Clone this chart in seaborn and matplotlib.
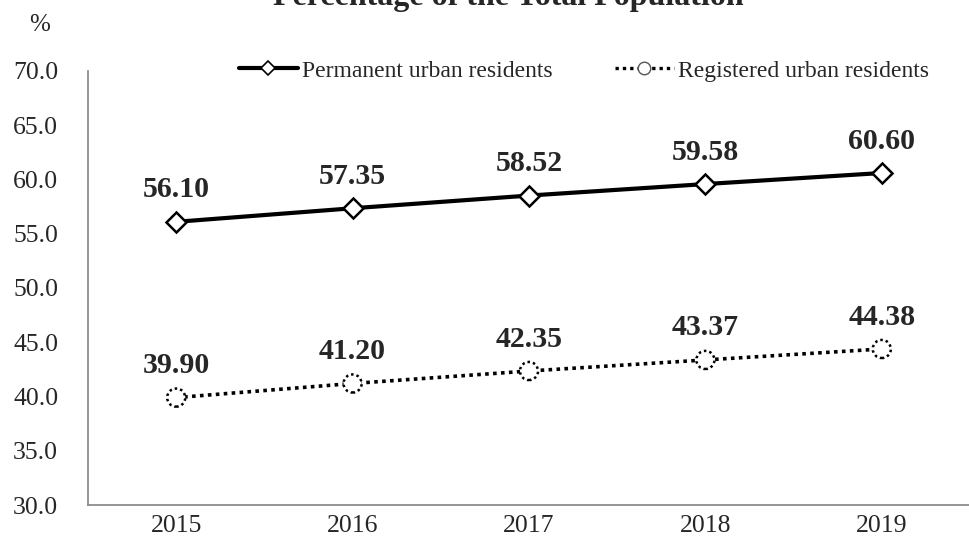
import numpy as np
import pandas as pd
import matplotlib
matplotlib.use("Agg")
import matplotlib.pyplot as plt
from matplotlib.lines import Line2D
import seaborn as sns

# --- Data ---
years = ["2015", "2016", "2017", "2018", "2019"]
permanent = [56.10, 57.35, 58.52, 59.58, 60.60]
registered = [39.90, 41.20, 42.35, 43.37, 44.38]
series_names = ["Permanent urban residents", "Registered urban residents"]

df = pd.DataFrame({"pos": np.arange(len(years)),
                   "permanent": permanent,
                   "registered": registered})

sns.set_style("white")
plt.rcParams["font.family"] = ["Liberation Serif", "DejaVu Serif"]

W, H = 970, 544
fig = plt.figure(figsize=(W / 100, H / 100), dpi=100)
ax = fig.add_axes([88 / W, 1 - 505 / H, 1 - 88 / W, (505 - 71) / H])

axis_grey = "#8c8c8c"

# --- Lines ---
sns.lineplot(data=df, x="pos", y="permanent", ax=ax, color="black", lw=3,
             marker="D", markersize=10, markerfacecolor="white",
             markeredgecolor="black", markeredgewidth=1.8, zorder=3)
sns.lineplot(data=df, x="pos", y="registered", ax=ax, color="black", lw=2.6,
             linestyle=(0, (1, 1.2)), zorder=2)
ax.scatter(df["pos"], df["registered"], s=170, marker="o", facecolor="white",
           edgecolor="black", linewidths=1.8, linestyle=(0, (1, 1.2)), zorder=4)

# --- Value labels ---
for col in ["permanent", "registered"]:
    for x, v in zip(df["pos"], df[col]):
        ax.annotate(f"{v:.2f}", (x, v), xytext=(0, 23), textcoords="offset points",
                    ha="center", va="center", fontsize=21.5, fontweight="bold")

# --- Axes ---
ax.set_xlim(-0.5, len(years) - 0.5)
ax.set_ylim(30, 70)
ax.set_yticks(np.arange(30, 70.1, 5))
ax.set_yticklabels([f"{t:.1f}" for t in np.arange(30, 70.1, 5)])
ax.set_xticks(np.arange(-0.5, len(years) - 0.5))
ax.set_xticklabels([])
ax.set_xticks(np.arange(len(years)), minor=True)
ax.set_xticklabels(years, minor=True)
ax.set_xlabel("")
ax.set_ylabel("")

ax.tick_params(axis="x", which="major", length=5, width=1.2, color=axis_grey,
               direction="out")
ax.tick_params(axis="x", which="minor", length=0, pad=7, labelsize=18.5)
ax.tick_params(axis="y", length=4.5, width=1.2, color=axis_grey,
               direction="out", labelsize=18.5, pad=17)

for side in ["top", "right"]:
    ax.spines[side].set_visible(False)
for side in ["left", "bottom"]:
    ax.spines[side].set_color(axis_grey)
    ax.spines[side].set_linewidth(1.3)

# --- Legend ---
handles = [
    Line2D([], [], color="black", lw=3, marker="D", markersize=7,
           markerfacecolor="white", markeredgecolor="black", markeredgewidth=1.2),
    Line2D([], [], color="black", lw=2.4, linestyle=(0, (1, 1.2)), marker="o",
           markersize=9, markerfacecolor="white", markeredgecolor="#555555",
           markeredgewidth=1.0),
]
fig.legend(handles, series_names, loc="center", ncol=2, frameon=False,
           bbox_to_anchor=(584 / W, 1 - 71 / H), fontsize=17,
           handlelength=2.5, handletextpad=0.2, columnspacing=2.6)

# --- Title and unit ---
fig.text(508 / W, 1 - 5 / H, "Percentage of the Total Population",
         ha="center", va="baseline", fontsize=23, fontweight="bold")
fig.text(40 / W, 1 - 25 / H, "%", ha="center", va="center", fontsize=18)

fig.savefig("out.png", dpi=100)
